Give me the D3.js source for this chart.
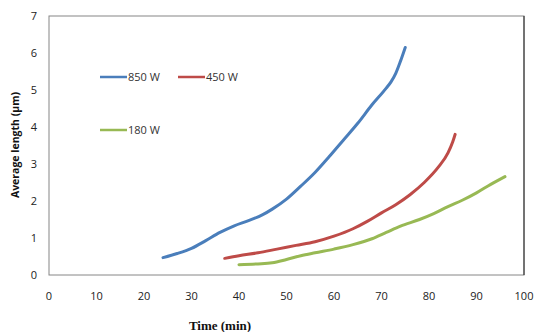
<!DOCTYPE html>
<html>
<head>
<meta charset="utf-8">
<script src="https://cdn.jsdelivr.net/npm/d3@7"></script>
<style>
  body { margin: 0; background: #fff; }
  svg { display: block; font-family: "Open Sans", "DejaVu Sans", sans-serif; }
</style>
</head>
<body>
<svg id="chart" width="536" height="332"></svg>
<script>
// 850 W
const time850 = [24, 27, 30, 33, 36, 39, 42, 45, 47, 50, 53, 56, 59, 62, 65, 68, 71, 72, 73, 74, 75];
const len850 = [0.47, 0.58, 0.72, 0.93, 1.15, 1.33, 1.47, 1.63, 1.78, 2.05, 2.4, 2.77, 3.2, 3.65, 4.1, 4.6, 5.05, 5.22, 5.45, 5.78, 6.15];
// 450 W
const time450 = [37, 40, 44, 48, 52, 56, 60, 64, 67, 70, 73, 76, 79, 82, 84, 85, 85.5];
const len450 = [0.45, 0.52, 0.6, 0.7, 0.8, 0.9, 1.05, 1.25, 1.45, 1.68, 1.9, 2.17, 2.5, 2.92, 3.3, 3.6, 3.8];
// 180 W
const time180 = [40, 44, 47, 50, 53, 56, 60, 64, 68, 71, 74, 78, 81, 84, 87, 90, 93, 96];
const len180 = [0.28, 0.3, 0.33, 0.42, 0.52, 0.6, 0.7, 0.82, 0.98, 1.15, 1.32, 1.5, 1.66, 1.85, 2.02, 2.22, 2.45, 2.66];

const seriesNames = ["850 W", "450 W", "180 W"];
const xTicks = [0, 10, 20, 30, 40, 50, 60, 70, 80, 90, 100];
const yTicks = [0, 1, 2, 3, 4, 5, 6, 7];

const series = [
  { name: seriesNames[0], t: time850, v: len850, color: "#4a7ebb" },
  { name: seriesNames[1], t: time450, v: len450, color: "#be4b48" },
  { name: seriesNames[2], t: time180, v: len180, color: "#98b954" },
];

const svg = d3.select("#chart");
const margin = { left: 49, top: 16, right: 524, bottom: 275 };

const x = d3.scaleLinear().domain([0, 100]).range([margin.left, margin.right]);
const y = d3.scaleLinear().domain([0, 7]).range([margin.bottom, margin.top]);

// plot frame
svg.append("rect")
  .attr("x", margin.left).attr("y", margin.top)
  .attr("width", margin.right - margin.left)
  .attr("height", margin.bottom - margin.top)
  .attr("fill", "none").attr("stroke", "#868686").attr("stroke-width", 1);
svg.append("line")
  .attr("x1", margin.right).attr("x2", margin.right)
  .attr("y1", margin.top).attr("y2", margin.bottom)
  .attr("stroke", "#222").attr("stroke-width", 1);

// tick labels
svg.append("g").selectAll("text").data(yTicks).join("text")
  .attr("x", 37).attr("y", (d) => y(d) + 4)
  .attr("text-anchor", "end").attr("font-size", 11).attr("fill", "#222")
  .text((d) => d);

svg.append("g").selectAll("text").data(xTicks).join("text")
  .attr("x", (d) => x(d)).attr("y", 300)
  .attr("text-anchor", "middle").attr("font-size", 11).attr("fill", "#222")
  .text((d) => d);

// axis titles
svg.append("text")
  .attr("x", 220).attr("y", 330)
  .attr("text-anchor", "middle")
  .attr("font-family", "'Liberation Serif', 'Times New Roman', serif")
  .attr("font-weight", "bold").attr("font-size", 13).attr("fill", "#111")
  .text("Time (min)");

svg.append("text")
  .attr("transform", "translate(19,145) rotate(-90)")
  .attr("text-anchor", "middle")
  .attr("font-weight", "bold").attr("font-size", 10.5).attr("fill", "#111")
  .text("Average length (µm)");

// curves
const line = d3.line()
  .x((d) => x(d[0]))
  .y((d) => y(d[1]))
  .curve(d3.curveMonotoneX);

svg.append("g").selectAll("path").data(series).join("path")
  .attr("d", (s) => line(d3.zip(s.t, s.v)))
  .attr("fill", "none")
  .attr("stroke", (s) => s.color)
  .attr("stroke-width", 3)
  .attr("stroke-linecap", "round");

// legend
const legendPos = [[100, 77], [178, 77], [100, 130]];
const legend = svg.append("g").selectAll("g").data(series).join("g")
  .attr("transform", (d, i) => `translate(${legendPos[i][0]},${legendPos[i][1]})`);
legend.append("line")
  .attr("x1", 0).attr("x2", 27).attr("y1", 0).attr("y2", 0)
  .attr("stroke", (d) => d.color).attr("stroke-width", 2.5);
legend.append("text")
  .attr("x", 28).attr("y", 4)
  .attr("font-size", 11).attr("fill", "#333")
  .text((d) => d.name);
</script>
</body>
</html>
